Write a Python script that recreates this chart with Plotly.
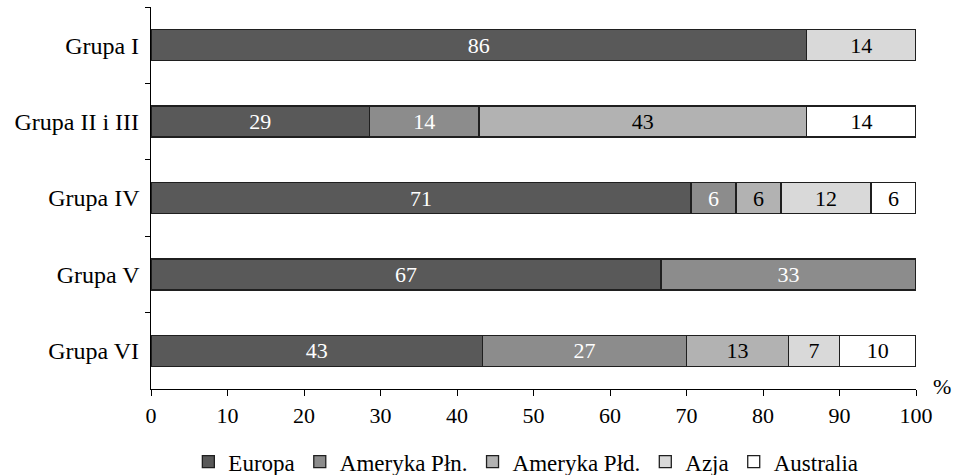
import plotly.graph_objects as go

# Regional structure of each group (percent of members)
groups = ["Grupa I", "Grupa II i III", "Grupa IV", "Grupa V", "Grupa VI"]
europa = [85.71, 28.57, 70.59, 66.67, 43.33]
ameryka_pln = [None, 14.29, 5.88, 33.33, 26.67]
ameryka_pld = [None, 42.86, 5.88, None, 13.33]
azja = [14.29, None, 11.76, None, 6.67]
australia = [None, 14.29, 5.88, None, 10.00]

series = [
    ("Europa", europa, "#595959", "white"),
    ("Ameryka Płn.", ameryka_pln, "#8c8c8c", "white"),
    ("Ameryka Płd.", ameryka_pld, "#b2b2b2", "black"),
    ("Azja", azja, "#d9d9d9", "black"),
    ("Australia", australia, "#ffffff", "black"),
]

FONT = "Liberation Serif"
NUM_SIZE = 22     # numbers: tick labels, bar labels
TXT_SIZE = 24     # category labels
LEG_SIZE = 23     # legend entries

fig = go.Figure()
for name, vals, color, txt in series:
    fig.add_trace(go.Bar(
        name=name,
        y=groups,
        x=vals,
        orientation="h",
        marker=dict(color=color, line=dict(color="#1f1f1f", width=1.3)),
        texttemplate="%{x:.0f}",
        textposition="inside",
        insidetextanchor="middle",
        textangle=0,
        insidetextfont=dict(family=FONT, size=NUM_SIZE, color=txt),
        constraintext="none",
        hoverinfo="skip",
    ))

fig.update_layout(
    barmode="stack",
    bargap=0.595,
    width=956,
    height=475,
    margin=dict(l=151, r=40, t=7, b=86, autoexpand=False),
    paper_bgcolor="white",
    plot_bgcolor="white",
    font=dict(family=FONT, size=NUM_SIZE, color="black"),
    showlegend=True,
    legend=dict(
        orientation="h",
        x=0.49,
        xanchor="center",
        yref="container",
        y=0.028,
        yanchor="middle",
        font=dict(family=FONT, size=LEG_SIZE, color="black"),
        itemwidth=30,
        traceorder="normal",
        tracegroupgap=0,
    ),
    xaxis=dict(
        range=[0, 100],
        tickmode="array",
        tickvals=list(range(0, 101, 10)),
        ticks="outside",
        ticklen=6,
        tickcolor="black",
        showline=True,
        linecolor="black",
        linewidth=1.2,
        showgrid=False,
        zeroline=False,
        tickfont=dict(family=FONT, size=NUM_SIZE, color="black"),
    ),
    yaxis=dict(
        autorange="reversed",
        ticks="outside",
        tickson="boundaries",
        ticklen=5,
        tickcolor="black",
        showline=True,
        linecolor="black",
        linewidth=1.2,
        showgrid=False,
        tickfont=dict(family=FONT, size=TXT_SIZE, color="black"),
        ticksuffix=" ",
    ),
    annotations=[
        dict(
            text="%",
            x=1.034,
            xref="paper",
            y=0.0,
            yref="paper",
            yanchor="middle",
            xanchor="center",
            yshift=3,
            showarrow=False,
            font=dict(family=FONT, size=NUM_SIZE, color="black"),
        )
    ],
)

fig.write_html("out.html")
